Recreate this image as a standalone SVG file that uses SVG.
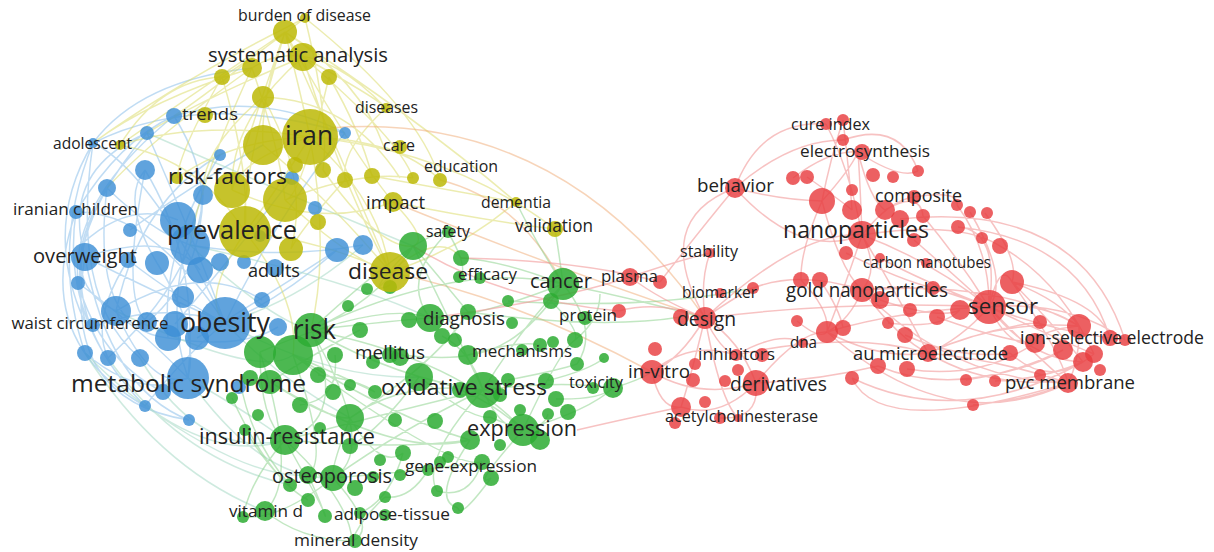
<svg xmlns="http://www.w3.org/2000/svg" width="1214" height="552" viewBox="0 0 1214 552">
<style>
.e{fill:none;stroke-width:1.5;stroke-opacity:.55}
.eb{stroke:#8cc0ea}.ey{stroke:#dcdc70}.eg{stroke:#8fd390}.er{stroke:#f29a9a;stroke-opacity:.6}.eo{stroke:#f0b080}.et{stroke:#a6d8c4}
.nr{fill:#e83d3f;fill-opacity:.82}
.ng{fill:#2dac32;fill-opacity:.85}
.nb{fill:#3d8fd6;fill-opacity:.82}
.ny{fill:#bcb806;fill-opacity:.85}
.t{font-family:"Open Sans","Noto Sans","DejaVu Sans",sans-serif;fill:#222;text-anchor:middle}
</style>
<rect width="1214" height="552" fill="#fff"/>
<g id="connectors">
<path class="e eb" d="M93 143Q50 250 85 353M147 133Q55 240 88 329M174 116Q70 200 78 283M107 188Q50 280 116 311M76 212Q60 320 145 406M85 257Q110 390 189 420M93 143Q150 170 225 323M76 212Q150 210 225 323M85 257Q150 290 225 323M88 329Q160 300 225 323M116 311Q150 390 188 378M145 170Q200 260 188 378M174 116Q220 190 190 245M107 188Q150 230 190 245M147 133Q190 230 225 323M83 243Q130 200 178 220M78 283Q130 320 188 378M145 406Q190 350 225 323M85 353Q140 400 188 378M108 358Q170 300 190 245M128 260Q180 300 225 323M157 263Q200 330 188 378M203 195Q160 300 188 378M220 155Q160 250 168 338M345 133Q280 210 225 323M337 250Q280 300 225 323M363 245Q280 260 190 245M93 143Q200 90 345 133M174 116Q260 90 345 133M76 212Q120 140 174 116M93 143Q140 80 252 68M85 257Q60 170 147 133M88 329Q40 230 93 143M145 406Q40 300 107 188M189 420Q60 400 85 257M116 311Q140 200 220 155M147 322Q200 280 203 195M175 324Q230 260 292 178M197 338Q260 300 337 250M116 311Q200 260 262 300M168 338Q240 350 278 327M85 257Q170 230 200 270M130 230Q200 180 263 145M76 212Q30 340 145 406M93 143Q70 300 140 358M107 188Q90 330 168 338M145 170Q120 300 147 322M78 283Q100 360 163 392M128 260Q90 320 108 358M157 263Q120 200 145 170"/>
<path class="e et" d="M225 323Q280 380 350 418M188 378Q260 420 285 440M225 323Q300 300 363 245M190 245Q270 320 311 330M140 358Q200 460 285 440M108 358Q180 460 290 485M85 353Q160 470 265 511M188 378Q260 480 333 478M225 323Q330 380 419 377M190 245Q350 280 430 318M145 406Q250 480 308 475M85 353Q200 470 285 440M116 311Q260 380 293 355M147 133Q300 200 413 246"/>
<path class="e ey" d="M285 32Q200 100 174 116M285 32Q360 80 384 147M305 18Q420 110 440 180M285 32Q170 110 120 145M252 68Q150 100 93 143M252 68Q150 140 107 188M285 32Q260 100 263 145M285 32Q300 90 310 137M285 32Q250 130 232 190M285 32Q240 180 245 232M285 32Q350 150 393 202M285 32Q360 200 390 272M305 18Q330 120 323 170M303 57Q230 120 232 190M303 57Q340 180 390 272M303 57Q380 100 386 108M303 57Q400 140 413 178M303 57Q200 100 147 133M222 77Q180 150 177 178M329 77Q360 130 372 176M263 97Q200 150 203 195M263 97Q310 180 291 249M310 137Q400 140 440 180M310 137Q450 150 555 229M310 137Q380 200 390 272M310 137Q270 200 245 232M310 137Q240 160 232 190M310 137Q200 120 120 145M310 137Q330 250 311 330M263 145Q330 200 390 272M245 232Q320 240 390 272M232 190Q320 230 393 202M372 176Q450 190 516 202M393 202Q480 220 555 229M390 272Q460 250 516 202M384 147Q420 160 440 180M245 232Q200 300 225 323M285 200Q350 260 390 272M285 200Q360 170 413 178M177 178Q230 140 310 137M120 145Q200 160 245 232M222 77Q160 80 120 145M252 68Q310 30 386 108M345 180Q300 230 291 249M386 108Q340 150 345 180M252 68Q200 180 190 245M329 77Q300 200 285 200M305 18Q250 60 222 77M263 97Q350 100 400 178M245 232Q300 300 293 355M390 272Q440 230 461 258M393 202Q430 240 413 246M323 170Q380 250 413 246M305 18Q180 80 93 143M285 32Q420 120 516 202M252 68Q280 150 285 200M222 77Q250 170 245 232"/>
<path class="e eo" d="M330 128Q560 110 705 318M393 202Q560 270 705 318M390 272Q520 300 652 372M440 180Q520 200 563 284"/>
<path class="e eg" d="M311 330Q380 300 413 246M311 330Q400 320 430 318M311 330Q400 380 483 390M311 330Q350 420 285 440M311 330Q380 450 333 478M311 330Q460 360 523 430M311 330Q460 260 563 284M293 355Q400 420 470 440M293 355Q330 460 308 475M260 352Q260 420 285 440M260 352Q300 480 265 511M285 440Q350 500 352 541M285 440Q400 450 470 440M285 440Q400 410 483 390M285 440Q330 520 325 516M333 478Q400 430 483 390M333 478Q430 470 482 462M333 478Q380 530 352 541M333 478Q280 520 243 517M483 390Q520 330 563 284M483 390Q560 380 613 388M483 390Q500 430 523 430M483 390Q440 300 413 246M483 390Q420 460 437 491M523 430Q560 350 575 340M523 430Q470 490 491 478M523 430Q590 410 613 388M523 430Q480 390 419 377M563 284Q500 260 461 258M563 284Q470 320 430 318M563 284Q600 330 577 364M563 284Q520 350 468 355M413 246Q360 300 390 285M413 246Q450 290 468 312M350 418Q400 380 483 390M350 418Q380 470 403 453M350 418Q330 470 333 478M419 377Q380 430 350 446M470 440Q430 500 458 508M482 462Q470 500 437 491M403 453Q390 500 360 513M270 382Q320 350 360 330M270 382Q330 420 350 418M240 380Q250 440 290 485M232 398Q270 480 308 500M448 232Q470 270 459 277M448 232Q400 280 430 318M555 229Q560 260 563 284M516 202Q540 250 563 284M468 355Q520 340 540 345M508 380Q560 370 577 364M546 381Q590 370 604 358M556 399Q600 400 613 388M575 340Q600 320 600 294M551 301Q580 330 575 340M490 417Q540 440 548 414M420 377Q470 420 490 417M335 355Q340 400 300 405M318 375Q360 380 375 392M400 355Q450 360 468 355M442 336Q470 350 483 390M245 430Q270 470 290 485M293 355Q350 380 375 392M285 440Q250 480 243 517M265 511Q300 540 352 541M308 475Q320 500 325 516M385 497Q360 520 352 541M428 470Q410 500 385 497M491 478Q460 520 458 508M613 388Q640 380 652 372M563 284Q640 300 705 318M468 312Q600 330 681 317M508 301Q650 310 753 288M311 330Q420 230 448 232M260 352Q380 300 430 318M293 355Q450 470 482 462M350 418Q440 360 468 312M270 382Q400 460 470 440"/>
<path class="e er" d="M705 318Q680 360 652 372M705 318Q740 340 756 383M705 318Q720 350 736 355M705 318Q690 380 681 407M705 318Q720 400 738 418M705 318Q660 300 630 277M705 318Q730 300 753 288M705 318Q700 280 710 253M652 372Q700 400 756 383M652 372Q660 410 681 407M652 372Q690 340 736 355M756 383Q720 420 681 407M756 383Q760 420 720 418M756 383Q800 330 827 332M736 355Q780 330 803 343M619 311Q660 300 705 318M630 277Q680 260 710 253M630 277Q560 300 430 318M619 311Q500 300 413 246M660 282Q580 260 461 258M577 430Q620 420 681 407M705 318Q650 220 735 188M735 188Q700 230 660 282M735 188Q760 120 826 124M735 188Q790 140 843 140M735 188Q780 200 822 201M735 188Q800 260 862 235M753 288Q800 270 862 290M705 318Q800 230 862 235M756 383Q820 380 878 366M736 355Q850 330 928 353M705 318Q850 300 989 307"/>
<path class="e er" d="M862 235Q850 170 826 124M862 235Q860 180 858 152M862 235Q890 200 914 197M862 235Q930 260 989 307M862 235Q880 270 862 290M862 235Q900 300 928 353M862 235Q840 300 827 332M862 235Q960 220 1000 246M822 201Q830 160 843 120M822 201Q850 170 858 152M822 201Q840 270 862 290M822 201Q800 250 801 280M858 152Q870 200 885 210M858 152Q900 180 918 171M843 120Q850 180 852 210M793 178Q830 150 858 152M807 177Q840 200 852 210M862 290Q930 280 989 307M862 290Q900 340 928 353M862 290Q850 320 827 332M862 290Q1000 280 1079 326M862 290Q950 380 1068 383M989 307Q1040 300 1079 326M989 307Q1040 360 1068 383M989 307Q960 340 928 353M989 307Q1000 260 1012 282M989 307Q1050 330 1110 338M989 307Q1010 350 1035 343M989 307Q1060 340 1094 354M989 307Q1030 360 1083 362M989 307Q1000 230 958 227M989 307Q960 260 923 216M1012 282Q1060 300 1079 326M1012 282Q1060 350 1068 383M1012 282Q1100 300 1110 338M1079 326Q1080 360 1068 383M1079 326Q1040 330 1035 343M928 353Q1000 360 1068 383M928 353Q990 390 1070 380M928 353Q980 330 1040 322M928 353Q1000 320 1079 326M827 332Q880 360 928 353M827 332Q900 310 989 307M827 332Q950 440 1068 383M852 378Q960 430 1083 362M878 366Q960 400 1063 350M907 369Q980 380 1035 343M966 380Q1030 370 1063 350M973 405Q1030 400 1068 383M995 381Q1040 380 1083 362M1010 353Q1050 390 1094 354M900 219Q1080 200 1125 340M958 227Q1080 240 1110 338M1000 246Q1060 280 1094 354M985 213Q1020 260 1012 282M957 205Q990 250 989 307M970 212Q1010 280 989 307M914 197Q960 190 957 205M885 210Q920 190 923 216M914 240Q960 280 989 307M846 253Q900 280 933 288M880 258Q920 280 989 307M801 280Q830 310 827 332M820 280Q840 310 843 328M797 321Q820 340 827 332M888 323Q940 330 960 310M905 335Q960 360 1010 353M880 300Q940 320 960 310M933 288Q970 300 989 307M937 317Q1000 340 1035 343M852 378Q880 440 1068 383M843 140Q900 120 918 171M1012 282Q1050 320 1083 362M989 307Q1070 300 1125 340"/>
</g>
<g id="small-nodes">
<circle class="nb" cx="178" cy="220" r="18"/><circle class="nb" cx="157" cy="263" r="12"/><circle class="nb" cx="128" cy="260" r="8"/><circle class="nb" cx="130" cy="230" r="7"/><circle class="nb" cx="107" cy="188" r="9"/><circle class="nb" cx="145" cy="170" r="10"/><circle class="nb" cx="147" cy="133" r="7"/><circle class="nb" cx="78" cy="283" r="7"/><circle class="nb" cx="116" cy="311" r="15"/><circle class="nb" cx="85" cy="353" r="8"/><circle class="nb" cx="108" cy="358" r="8"/><circle class="nb" cx="140" cy="358" r="9"/><circle class="nb" cx="147" cy="322" r="10"/><circle class="nb" cx="175" cy="324" r="13"/><circle class="nb" cx="168" cy="338" r="13"/><circle class="nb" cx="197" cy="338" r="12"/><circle class="nb" cx="183" cy="297" r="11"/><circle class="nb" cx="200" cy="270" r="13"/><circle class="nb" cx="220" cy="262" r="9"/><circle class="nb" cx="244" cy="262" r="7"/><circle class="nb" cx="145" cy="406" r="6"/><circle class="nb" cx="189" cy="420" r="6"/><circle class="nb" cx="220" cy="155" r="6"/><circle class="nb" cx="203" cy="195" r="10"/><circle class="nb" cx="260" cy="236" r="6"/><circle class="nb" cx="292" cy="178" r="7"/><circle class="nb" cx="315" cy="208" r="7"/><circle class="nb" cx="345" cy="133" r="6"/><circle class="nb" cx="337" cy="250" r="12"/><circle class="nb" cx="363" cy="245" r="10"/><circle class="nb" cx="278" cy="327" r="9"/><circle class="nb" cx="262" cy="300" r="8"/><circle class="nb" cx="163" cy="392" r="8"/><circle class="nb" cx="239" cy="387" r="7"/>
<circle class="ny" cx="305" cy="18" r="5"/><circle class="ny" cx="252" cy="68" r="10"/><circle class="ny" cx="222" cy="77" r="8"/><circle class="ny" cx="329" cy="77" r="8"/><circle class="ny" cx="263" cy="97" r="11"/><circle class="ny" cx="263" cy="145" r="20"/><circle class="ny" cx="285" cy="200" r="22"/><circle class="ny" cx="323" cy="170" r="8"/><circle class="ny" cx="345" cy="180" r="8"/><circle class="ny" cx="372" cy="176" r="8"/><circle class="ny" cx="413" cy="178" r="6"/><circle class="ny" cx="291" cy="249" r="12"/><circle class="ny" cx="177" cy="178" r="6"/><circle class="ny" cx="120" cy="145" r="5"/><circle class="ny" cx="205" cy="115" r="8"/><circle class="ny" cx="318" cy="222" r="8"/><circle class="ny" cx="295" cy="165" r="8"/>
<circle class="ng" cx="413" cy="246" r="14"/><circle class="ng" cx="461" cy="258" r="8"/><circle class="ng" cx="459" cy="277" r="6"/><circle class="ng" cx="390" cy="287" r="7"/><circle class="ng" cx="367" cy="289" r="6"/><circle class="ng" cx="348" cy="306" r="6"/><circle class="ng" cx="551" cy="301" r="8"/><circle class="ng" cx="508" cy="301" r="6"/><circle class="ng" cx="409" cy="320" r="8"/><circle class="ng" cx="468" cy="312" r="8"/><circle class="ng" cx="442" cy="336" r="8"/><circle class="ng" cx="360" cy="330" r="8"/><circle class="ng" cx="335" cy="355" r="8"/><circle class="ng" cx="293" cy="355" r="20"/><circle class="ng" cx="260" cy="352" r="16"/><circle class="ng" cx="400" cy="357" r="9"/><circle class="ng" cx="373" cy="362" r="7"/><circle class="ng" cx="419" cy="377" r="14"/><circle class="ng" cx="468" cy="355" r="10"/><circle class="ng" cx="508" cy="380" r="7"/><circle class="ng" cx="520" cy="410" r="6"/><circle class="ng" cx="575" cy="340" r="8"/><circle class="ng" cx="577" cy="364" r="7"/><circle class="ng" cx="613" cy="388" r="10"/><circle class="ng" cx="604" cy="358" r="5"/><circle class="ng" cx="556" cy="399" r="8"/><circle class="ng" cx="548" cy="414" r="6"/><circle class="ng" cx="568" cy="412" r="8"/><circle class="ng" cx="490" cy="417" r="7"/><circle class="ng" cx="470" cy="440" r="10"/><circle class="ng" cx="435" cy="421" r="8"/><circle class="ng" cx="448" cy="457" r="6"/><circle class="ng" cx="482" cy="462" r="8"/><circle class="ng" cx="428" cy="470" r="6"/><circle class="ng" cx="491" cy="478" r="8"/><circle class="ng" cx="437" cy="491" r="6"/><circle class="ng" cx="458" cy="508" r="6"/><circle class="ng" cx="403" cy="453" r="8"/><circle class="ng" cx="350" cy="418" r="14"/><circle class="ng" cx="333" cy="392" r="8"/><circle class="ng" cx="320" cy="428" r="6"/><circle class="ng" cx="350" cy="446" r="8"/><circle class="ng" cx="380" cy="460" r="6"/><circle class="ng" cx="308" cy="475" r="9"/><circle class="ng" cx="355" cy="488" r="8"/><circle class="ng" cx="290" cy="485" r="7"/><circle class="ng" cx="243" cy="517" r="6"/><circle class="ng" cx="308" cy="500" r="7"/><circle class="ng" cx="325" cy="516" r="7"/><circle class="ng" cx="385" cy="497" r="6"/><circle class="ng" cx="360" cy="513" r="6"/><circle class="ng" cx="373" cy="477" r="6"/><circle class="ng" cx="400" cy="475" r="6"/><circle class="ng" cx="270" cy="382" r="12"/><circle class="ng" cx="250" cy="378" r="8"/><circle class="ng" cx="232" cy="398" r="6"/><circle class="ng" cx="258" cy="415" r="6"/><circle class="ng" cx="245" cy="430" r="6"/><circle class="ng" cx="300" cy="405" r="8"/><circle class="ng" cx="318" cy="375" r="8"/><circle class="ng" cx="350" cy="385" r="6"/><circle class="ng" cx="375" cy="392" r="7"/><circle class="ng" cx="395" cy="420" r="7"/><circle class="ng" cx="455" cy="340" r="7"/><circle class="ng" cx="512" cy="323" r="6"/><circle class="ng" cx="540" cy="345" r="7"/><circle class="ng" cx="546" cy="381" r="8"/><circle class="ng" cx="500" cy="445" r="6"/><circle class="ng" cx="460" cy="390" r="8"/><circle class="ng" cx="540" cy="440" r="10"/><circle class="ng" cx="500" cy="395" r="7"/><circle class="ng" cx="553" cy="342" r="6"/>
<circle class="nr" cx="843" cy="120" r="6"/><circle class="nr" cx="843" cy="140" r="6"/><circle class="nr" cx="793" cy="178" r="7"/><circle class="nr" cx="807" cy="177" r="7"/><circle class="nr" cx="822" cy="201" r="13"/><circle class="nr" cx="852" cy="190" r="6"/><circle class="nr" cx="873" cy="175" r="7"/><circle class="nr" cx="893" cy="177" r="6"/><circle class="nr" cx="918" cy="171" r="6"/><circle class="nr" cx="852" cy="210" r="10"/><circle class="nr" cx="885" cy="210" r="10"/><circle class="nr" cx="900" cy="219" r="9"/><circle class="nr" cx="923" cy="216" r="7"/><circle class="nr" cx="957" cy="205" r="6"/><circle class="nr" cx="970" cy="212" r="6"/><circle class="nr" cx="987" cy="213" r="6"/><circle class="nr" cx="958" cy="227" r="7"/><circle class="nr" cx="982" cy="238" r="6"/><circle class="nr" cx="1000" cy="246" r="8"/><circle class="nr" cx="914" cy="240" r="7"/><circle class="nr" cx="846" cy="253" r="7"/><circle class="nr" cx="880" cy="258" r="5"/><circle class="nr" cx="1012" cy="282" r="12"/><circle class="nr" cx="801" cy="280" r="8"/><circle class="nr" cx="820" cy="280" r="8"/><circle class="nr" cx="880" cy="300" r="9"/><circle class="nr" cx="933" cy="288" r="7"/><circle class="nr" cx="937" cy="317" r="8"/><circle class="nr" cx="960" cy="310" r="10"/><circle class="nr" cx="827" cy="332" r="11"/><circle class="nr" cx="797" cy="321" r="6"/><circle class="nr" cx="843" cy="328" r="8"/><circle class="nr" cx="888" cy="323" r="6"/><circle class="nr" cx="905" cy="335" r="8"/><circle class="nr" cx="910" cy="310" r="7"/><circle class="nr" cx="1040" cy="322" r="7"/><circle class="nr" cx="1110" cy="338" r="8"/><circle class="nr" cx="1035" cy="343" r="10"/><circle class="nr" cx="1063" cy="350" r="10"/><circle class="nr" cx="1083" cy="362" r="10"/><circle class="nr" cx="1094" cy="354" r="9"/><circle class="nr" cx="1010" cy="353" r="8"/><circle class="nr" cx="878" cy="366" r="8"/><circle class="nr" cx="907" cy="369" r="8"/><circle class="nr" cx="852" cy="378" r="7"/><circle class="nr" cx="966" cy="380" r="6"/><circle class="nr" cx="973" cy="405" r="6"/><circle class="nr" cx="995" cy="381" r="6"/><circle class="nr" cx="1100" cy="370" r="6"/><circle class="nr" cx="1040" cy="375" r="6"/><circle class="nr" cx="1125" cy="340" r="6"/><circle class="nr" cx="660" cy="282" r="7"/><circle class="nr" cx="753" cy="288" r="6"/><circle class="nr" cx="619" cy="311" r="7"/><circle class="nr" cx="681" cy="317" r="8"/><circle class="nr" cx="655" cy="349" r="7"/><circle class="nr" cx="695" cy="364" r="6"/><circle class="nr" cx="693" cy="380" r="7"/><circle class="nr" cx="725" cy="381" r="6"/><circle class="nr" cx="738" cy="370" r="6"/><circle class="nr" cx="762" cy="355" r="7"/><circle class="nr" cx="681" cy="407" r="10"/><circle class="nr" cx="705" cy="402" r="6"/><circle class="nr" cx="720" cy="418" r="6"/><circle class="nr" cx="675" cy="423" r="6"/>
</g>
<g id="n-iran"><circle class="ny" cx="310" cy="137" r="28"/><text class="t" x="309" y="145" font-size="28" textLength="48" lengthAdjust="spacingAndGlyphs">iran</text></g>
<g id="n-prevalence"><circle class="nb" cx="190" cy="245" r="20"/><circle class="ny" cx="245" cy="232" r="26"/><text class="t" x="232" y="239" font-size="26" textLength="130" lengthAdjust="spacingAndGlyphs">prevalence</text></g>
<g id="n-obesity"><circle class="nb" cx="225" cy="323" r="26"/><text class="t" x="225" y="332" font-size="27.5" textLength="90" lengthAdjust="spacingAndGlyphs">obesity</text></g>
<g id="n-metabolic-syndrome"><circle class="nb" cx="188" cy="378" r="21"/><text class="t" x="188.5" y="392" font-size="23.5" textLength="235" lengthAdjust="spacingAndGlyphs">metabolic syndrome</text></g>
<g id="n-risk-factors"><circle class="ny" cx="232" cy="190" r="18"/><text class="t" x="227.5" y="184" font-size="22.5" textLength="119" lengthAdjust="spacingAndGlyphs">risk-factors</text></g>
<g id="n-disease"><circle class="ny" cx="390" cy="272" r="20"/><text class="t" x="388" y="279" font-size="22.5" textLength="80" lengthAdjust="spacingAndGlyphs">disease</text></g>
<g id="n-risk"><circle class="ng" cx="311" cy="330" r="17"/><text class="t" x="314.5" y="339" font-size="28" textLength="43" lengthAdjust="spacingAndGlyphs">risk</text></g>
<g id="n-oxidative-stress"><circle class="ng" cx="483" cy="390" r="18"/><text class="t" x="464" y="395" font-size="22.5" textLength="166" lengthAdjust="spacingAndGlyphs">oxidative stress</text></g>
<g id="n-expression"><circle class="ng" cx="523" cy="430" r="16"/><text class="t" x="522" y="436" font-size="21.5" textLength="110" lengthAdjust="spacingAndGlyphs">expression</text></g>
<g id="n-insulin-resistance"><circle class="ng" cx="285" cy="440" r="15"/><text class="t" x="287" y="444" font-size="21.5" textLength="176" lengthAdjust="spacingAndGlyphs">insulin-resistance</text></g>
<g id="n-osteoporosis"><circle class="ng" cx="333" cy="478" r="13"/><text class="t" x="332" y="483" font-size="19.5" textLength="120" lengthAdjust="spacingAndGlyphs">osteoporosis</text></g>
<g id="n-cancer"><circle class="ng" cx="563" cy="284" r="16"/><text class="t" x="561" y="288" font-size="20" textLength="62" lengthAdjust="spacingAndGlyphs">cancer</text></g>
<g id="n-diagnosis"><circle class="ng" cx="430" cy="318" r="14"/><text class="t" x="464" y="325" font-size="19" textLength="82" lengthAdjust="spacingAndGlyphs">diagnosis</text></g>
<g id="n-systematic-analysis"><circle class="ny" cx="303" cy="57" r="14"/><text class="t" x="298" y="62" font-size="20" textLength="180" lengthAdjust="spacingAndGlyphs">systematic analysis</text></g>
<g id="n-burden-of-disease"><circle class="ny" cx="285" cy="32" r="12"/><text class="t" x="304.5" y="21" font-size="16" textLength="133" lengthAdjust="spacingAndGlyphs">burden of disease</text></g>
<g id="n-overweight"><circle class="nb" cx="85" cy="257" r="14"/><text class="t" x="85" y="263" font-size="20.5" textLength="104" lengthAdjust="spacingAndGlyphs">overweight</text></g>
<g id="n-trends"><circle class="nb" cx="174" cy="116" r="8"/><text class="t" x="210" y="120" font-size="17" textLength="56" lengthAdjust="spacingAndGlyphs">trends</text></g>
<g id="n-adolescent"><circle class="nb" cx="93" cy="143" r="5"/><text class="t" x="92.5" y="149" font-size="16" textLength="79" lengthAdjust="spacingAndGlyphs">adolescent</text></g>
<g id="n-iranian-children"><circle class="nb" cx="76" cy="212" r="7"/><text class="t" x="75.5" y="215" font-size="17" textLength="125" lengthAdjust="spacingAndGlyphs">iranian children</text></g>
<g id="n-waist-circumference"><circle class="nb" cx="93" cy="325" r="7"/><text class="t" x="90" y="329" font-size="17" textLength="157" lengthAdjust="spacingAndGlyphs">waist circumference</text></g>
<g id="n-adults"><circle class="nb" cx="275" cy="268" r="9"/><text class="t" x="274" y="277" font-size="17.5" textLength="52" lengthAdjust="spacingAndGlyphs">adults</text></g>
<g id="n-diseases"><circle class="ny" cx="386" cy="108" r="5"/><text class="t" x="386.5" y="113" font-size="16" textLength="63" lengthAdjust="spacingAndGlyphs">diseases</text></g>
<g id="n-care"><circle class="ny" cx="400" cy="147" r="7"/><text class="t" x="399" y="151" font-size="16" textLength="32" lengthAdjust="spacingAndGlyphs">care</text></g>
<g id="n-education"><circle class="ny" cx="440" cy="180" r="7"/><text class="t" x="461" y="172" font-size="16" textLength="74" lengthAdjust="spacingAndGlyphs">education</text></g>
<g id="n-impact"><circle class="ny" cx="393" cy="202" r="10"/><text class="t" x="395.5" y="209" font-size="18.5" textLength="59" lengthAdjust="spacingAndGlyphs">impact</text></g>
<g id="n-dementia"><circle class="ny" cx="516" cy="202" r="5"/><text class="t" x="516" y="208" font-size="16" textLength="70" lengthAdjust="spacingAndGlyphs">dementia</text></g>
<g id="n-validation"><circle class="ny" cx="555" cy="229" r="8"/><text class="t" x="554" y="232" font-size="17.5" textLength="78" lengthAdjust="spacingAndGlyphs">validation</text></g>
<g id="n-safety"><circle class="ng" cx="448" cy="232" r="6"/><text class="t" x="448" y="237" font-size="16" textLength="44" lengthAdjust="spacingAndGlyphs">safety</text></g>
<g id="n-efficacy"><circle class="ng" cx="480" cy="278" r="6"/><text class="t" x="487.5" y="280" font-size="16.5" textLength="59" lengthAdjust="spacingAndGlyphs">efficacy</text></g>
<g id="n-protein"><circle class="ng" cx="585" cy="318" r="7"/><text class="t" x="588" y="321" font-size="17" textLength="58" lengthAdjust="spacingAndGlyphs">protein</text></g>
<g id="n-mellitus"><circle class="ng" cx="390" cy="355" r="8"/><text class="t" x="390" y="359" font-size="19" textLength="70" lengthAdjust="spacingAndGlyphs">mellitus</text></g>
<g id="n-mechanisms"><circle class="ng" cx="522" cy="350" r="6"/><text class="t" x="522" y="357" font-size="17" textLength="100" lengthAdjust="spacingAndGlyphs">mechanisms</text></g>
<g id="n-toxicity"><circle class="ng" cx="593" cy="388" r="6"/><text class="t" x="596" y="388" font-size="16" textLength="54" lengthAdjust="spacingAndGlyphs">toxicity</text></g>
<g id="n-gene-expression"><circle class="ng" cx="440" cy="462" r="6"/><text class="t" x="471" y="472" font-size="17" textLength="132" lengthAdjust="spacingAndGlyphs">gene-expression</text></g>
<g id="n-vitamin-d"><circle class="ng" cx="265" cy="511" r="10"/><text class="t" x="266" y="517" font-size="17" textLength="74" lengthAdjust="spacingAndGlyphs">vitamin d</text></g>
<g id="n-adipose-tissue"><circle class="ng" cx="385" cy="515" r="6"/><text class="t" x="392" y="520" font-size="17" textLength="116" lengthAdjust="spacingAndGlyphs">adipose-tissue</text></g>
<g id="n-mineral-density"><circle class="ng" cx="355" cy="541" r="7"/><text class="t" x="356" y="546" font-size="17" textLength="124" lengthAdjust="spacingAndGlyphs">mineral density</text></g>
<g id="n-nanoparticles"><circle class="nr" cx="862" cy="235" r="14"/><text class="t" x="856" y="238" font-size="23.5" textLength="146" lengthAdjust="spacingAndGlyphs">nanoparticles</text></g>
<g id="n-sensor"><circle class="nr" cx="989" cy="307" r="17"/><text class="t" x="1003" y="314" font-size="22" textLength="70" lengthAdjust="spacingAndGlyphs">sensor</text></g>
<g id="n-gold-nanoparticles"><circle class="nr" cx="862" cy="290" r="12"/><text class="t" x="867" y="297" font-size="19.5" textLength="162" lengthAdjust="spacingAndGlyphs">gold nanoparticles</text></g>
<g id="n-au-microelectrode"><circle class="nr" cx="928" cy="353" r="9"/><text class="t" x="930.5" y="360" font-size="19" textLength="155" lengthAdjust="spacingAndGlyphs">au microelectrode</text></g>
<g id="n-ion-selective-electrode"><circle class="nr" cx="1079" cy="326" r="12"/><text class="t" x="1112" y="344" font-size="18" textLength="184" lengthAdjust="spacingAndGlyphs">ion-selective electrode</text></g>
<g id="n-pvc-membrane"><circle class="nr" cx="1068" cy="383" r="10"/><text class="t" x="1070" y="389" font-size="18.5" textLength="130" lengthAdjust="spacingAndGlyphs">pvc membrane</text></g>
<g id="n-behavior"><circle class="nr" cx="735" cy="188" r="10"/><text class="t" x="735.5" y="192" font-size="18.5" textLength="77" lengthAdjust="spacingAndGlyphs">behavior</text></g>
<g id="n-cure-index"><circle class="nr" cx="826" cy="124" r="6"/><text class="t" x="830.5" y="130" font-size="16" textLength="79" lengthAdjust="spacingAndGlyphs">cure index</text></g>
<g id="n-electrosynthesis"><circle class="nr" cx="862" cy="152" r="8"/><text class="t" x="865" y="157" font-size="17" textLength="130" lengthAdjust="spacingAndGlyphs">electrosynthesis</text></g>
<g id="n-composite"><circle class="nr" cx="914" cy="197" r="7"/><text class="t" x="918.5" y="202" font-size="17.5" textLength="87" lengthAdjust="spacingAndGlyphs">composite</text></g>
<g id="n-carbon-nanotubes"><circle class="nr" cx="926" cy="263" r="5"/><text class="t" x="927" y="268" font-size="15.5" textLength="128" lengthAdjust="spacingAndGlyphs">carbon nanotubes</text></g>
<g id="n-stability"><circle class="nr" cx="710" cy="253" r="5"/><text class="t" x="709" y="257" font-size="15.5" textLength="58" lengthAdjust="spacingAndGlyphs">stability</text></g>
<g id="n-plasma"><circle class="nr" cx="630" cy="277" r="9"/><text class="t" x="629.5" y="282" font-size="17" textLength="57" lengthAdjust="spacingAndGlyphs">plasma</text></g>
<g id="n-biomarker"><circle class="nr" cx="720" cy="293" r="5"/><text class="t" x="719.5" y="298" font-size="16" textLength="75" lengthAdjust="spacingAndGlyphs">biomarker</text></g>
<g id="n-design"><circle class="nr" cx="705" cy="318" r="11"/><text class="t" x="706.5" y="326" font-size="20" textLength="59" lengthAdjust="spacingAndGlyphs">design</text></g>
<g id="n-dna"><circle class="nr" cx="803" cy="343" r="5"/><text class="t" x="803.5" y="348" font-size="16" textLength="27" lengthAdjust="spacingAndGlyphs">dna</text></g>
<g id="n-inhibitors"><circle class="nr" cx="736" cy="355" r="6"/><text class="t" x="736.5" y="360" font-size="17" textLength="77" lengthAdjust="spacingAndGlyphs">inhibitors</text></g>
<g id="n-in-vitro"><circle class="nr" cx="652" cy="372" r="12"/><text class="t" x="659" y="378" font-size="19" textLength="62" lengthAdjust="spacingAndGlyphs">in-vitro</text></g>
<g id="n-derivatives"><circle class="nr" cx="756" cy="383" r="13"/><text class="t" x="778.5" y="391" font-size="19.5" textLength="97" lengthAdjust="spacingAndGlyphs">derivatives</text></g>
<g id="n-acetylcholinesterase"><circle class="nr" cx="738" cy="418" r="4"/><text class="t" x="741.5" y="422" font-size="16" textLength="153" lengthAdjust="spacingAndGlyphs">acetylcholinesterase</text></g>
</svg>
